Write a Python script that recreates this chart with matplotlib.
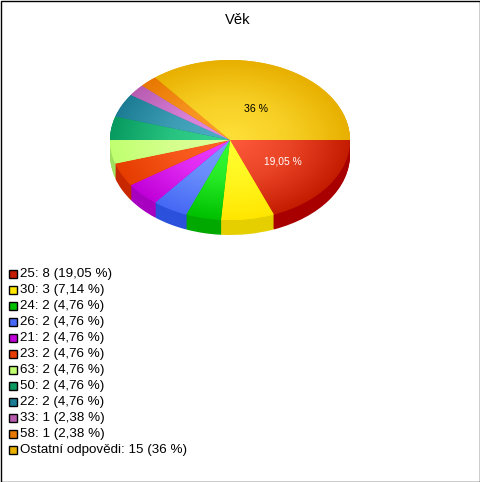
import matplotlib
matplotlib.use('Agg')
import matplotlib.pyplot as plt
import numpy as np
from matplotlib.colors import LinearSegmentedColormap, to_rgb
from matplotlib.patches import Rectangle

plt.rcParams['font.family'] = ['Liberation Sans', 'DejaVu Sans']

labels = ['25', '30', '24', '26', '21', '23', '63', '50', '22', '33', '58', 'Ostatní odpovědi']
counts = [8, 3, 2, 2, 2, 2, 2, 2, 2, 1, 1, 15]
percents = ['19,05', '7,14', '4,76', '4,76', '4,76', '4,76', '4,76', '4,76', '4,76', '2,38', '2,38', '36']

# legend swatch / outer rim of the slice
edge_colors = ['#c41c00', '#ffe600', '#00c000', '#4668f5', '#c000d8', '#e63c00',
               '#c0ff70', '#089a60', '#1c7c94', '#b85cb0', '#e87800', '#e8b000']
# light middle of the slice
mid_colors = ['#ff5a3c', '#ffff30', '#38ff38', '#7aa0ff', '#f040ff', '#ff6428',
              '#e0ff9c', '#38d890', '#50b0c8', '#e490e8', '#ffa030', '#ffe038']
side_colors = ['#a80000', '#e6cf00', '#00a800', '#2a50dc', '#a800c0', '#c82800',
               '#a0e060', '#067a4c', '#146078', '#904890', '#c06000', '#c09000']

W, H = 480, 482
CX, CY, RX, RY = 230, 140, 120, 80
DEPTH = 15

fig = plt.figure(figsize=(W / 100, H / 100), dpi=100)
ax = fig.add_axes([0, 0, 1, 1])
ax.set_xlim(0, W)
ax.set_ylim(H, 0)
ax.axis('off')
ax.add_patch(Rectangle((0.5, 0.5), W - 1, H - 1, fc='white', ec='black', lw=1))

# pie axes in stretched unit coordinates, tall enough for the side wall
pie_ax = fig.add_axes([(CX - RX) / W, 1 - (CY + RY + DEPTH) / H,
                       2 * RX / W, (2 * RY + DEPTH) / H])
pie_ax.patch.set_alpha(0)

# side wall: stacked copies of the pie, one pixel apart
for d in range(DEPTH, 0, -1):
    pie_ax.pie(counts, colors=side_colors, startangle=0, counterclock=False,
               center=(0, -d / RY), radius=1, wedgeprops=dict(lw=0), frame=True)

wedges, _ = pie_ax.pie(counts, colors=edge_colors, startangle=0, counterclock=False,
                       center=(0, 0), radius=1, wedgeprops=dict(lw=0), frame=True)

# radial shading on the top face, stays light a bit longer than a plain ramp
xx, yy = np.meshgrid(np.linspace(-1, 1, 400), np.linspace(-1, 1, 400))
dist = np.clip(np.hypot(xx, yy), 0, 1)
for w, c_mid, c_edge in zip(wedges, mid_colors, edge_colors):
    halfway = 0.65 * np.array(to_rgb(c_mid)) + 0.35 * np.array(to_rgb(c_edge))
    cmap = LinearSegmentedColormap.from_list('shade', [c_mid, halfway, c_edge])
    im = pie_ax.imshow(dist, extent=(-1, 1, -1, 1), origin='lower', cmap=cmap,
                       vmin=0, vmax=1, aspect='auto', interpolation='bilinear', zorder=5)
    im.set_clip_path(w)

pie_ax.set_xlim(-1, 1)
pie_ax.set_ylim(-1 - DEPTH / RY, 1)
pie_ax.set_aspect('auto')
pie_ax.axis('off')

ax.set_zorder(0)
pie_ax.set_zorder(1)

# labels go on a clear overlay above the pie
top = fig.add_axes([0, 0, 1, 1], zorder=2)
top.set_xlim(0, W)
top.set_ylim(H, 0)
top.axis('off')

top.text(237.5, 20.5, 'Věk', ha='center', va='center', fontsize=10.6, color='black')
top.text(256, 109, percents[-1] + ' %', ha='center', va='center', fontsize=7.6, color='black')
top.text(283, 162, percents[0] + ' %', ha='center', va='center', fontsize=7.4, color='white')

for i, (name, n, p) in enumerate(zip(labels, counts, percents)):
    y = 274 + i * 16
    top.add_patch(Rectangle((9, y - 4), 8, 8, fc=edge_colors[i], ec='black', lw=1))
    top.text(20, y + 0.5, f'{name}: {n} ({p} %)', ha='left', va='center', fontsize=9.65, color='black')

fig.savefig('out.png', dpi=100)
